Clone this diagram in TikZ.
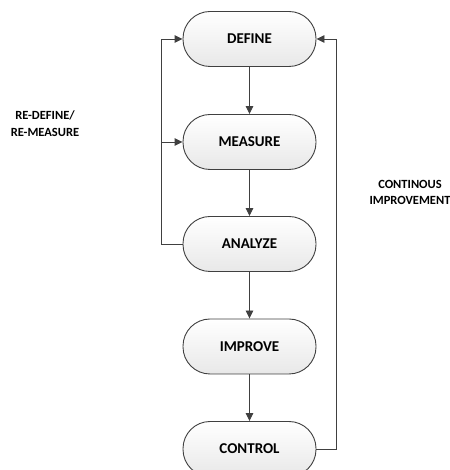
\documentclass[tikz,border=0pt]{standalone}
\usepackage{fontspec}
\setmainfont{Carlito}
\usetikzlibrary{arrows.meta}
\definecolor{lc}{HTML}{404040}
\begin{document}
\begin{tikzpicture}[x=1pt,y=1pt,
  stepbox/.style={draw=lc, line width=0.9pt, rectangle, rounded corners=27pt,
    minimum width=133pt, minimum height=55pt, inner sep=0pt,
    top color=white, bottom color=gray!18, font=\fontsize{15}{17}\selectfont\bfseries},
  lbl/.style={align=center, font=\fontsize{12.5}{16.5}\selectfont\bfseries},
  arr/.style={draw=lc, line width=0.9pt, -{Triangle[length=8pt,width=7.5pt]}},
  ln/.style={draw=lc, line width=0.9pt}]
\clip (0,0) rectangle (449,470);
\node[stepbox] (define) at (249.5,431) {DEFINE};
\node[stepbox] (measure) at (249.5,328) {MEASURE};
\node[stepbox] (analyze) at (249.5,226) {ANALYZE};
\node[stepbox] (improve) at (249.5,123.5) {IMPROVE};
\node[stepbox] (control) at (249.5,21) {CONTROL};
\coordinate (lx) at (161.5,0);
\coordinate (rx) at (336.5,0);
\node[lbl] (redef) at (45,346.5) {RE-DEFINE/\\RE-MEASURE};
\node[lbl] (cont) at (410,277.5) {CONTINOUS\\IMPROVEMENT};
\draw[arr] (define) -- (measure);
\draw[arr] (measure) -- (analyze);
\draw[arr] (analyze) -- (improve);
\draw[arr] (improve) -- (control);
\draw[arr] (analyze.west) -- (analyze.west -| lx) |- (define.west);
\draw[arr] (measure.west -| lx) -- (measure.west);
\draw[arr] (control.east) -- (control.east -| rx) |- (define.east);
\end{tikzpicture}
\end{document}
